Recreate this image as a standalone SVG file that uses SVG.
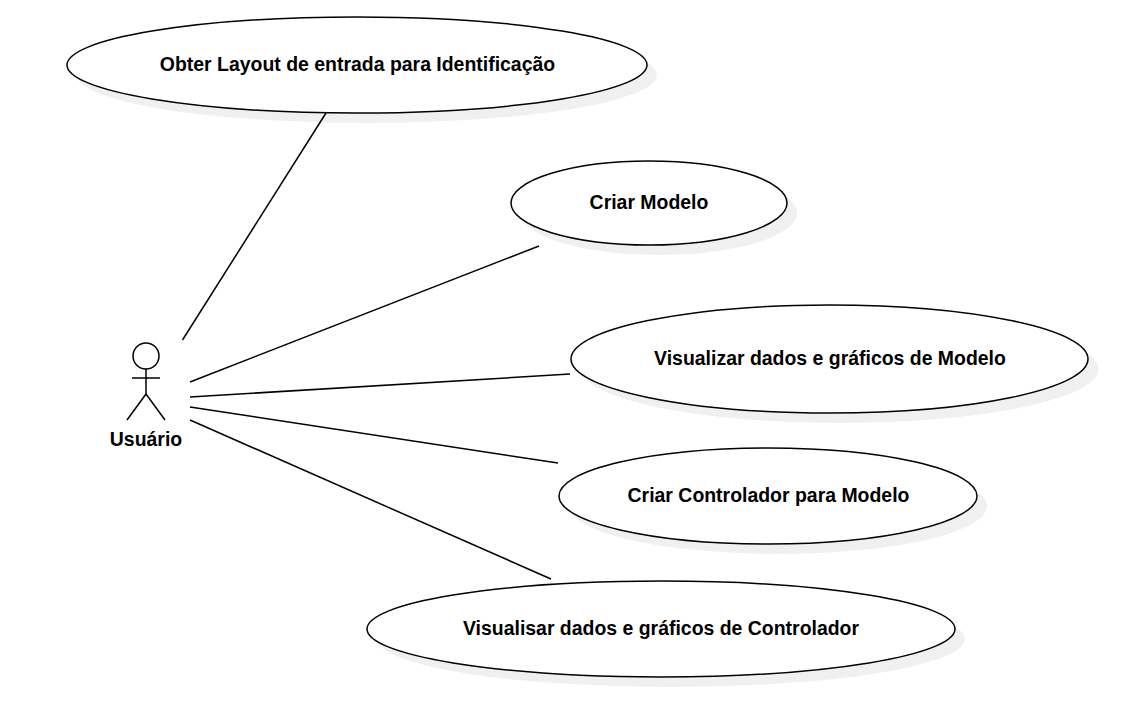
<svg xmlns="http://www.w3.org/2000/svg" width="1126" height="721" viewBox="0 0 1126 721">
<style>
text{font-family:"Liberation Sans",Arial,sans-serif;font-size:19.45px;font-weight:bold;fill:#000;text-anchor:middle}
.u{fill:#fff;stroke:#000;stroke-width:1.5}
.s{fill:#000;opacity:.06;stroke:none}
.c line{stroke:#000;stroke-width:1.5}
.a{fill:none;stroke:#000;stroke-width:1.5}
</style>
<rect width="1126" height="721" fill="#fff"/>
<g id="n1"><ellipse class="s" cx="367" cy="75" rx="290" ry="48"/><ellipse class="u" cx="357" cy="65" rx="290" ry="48"/><text x="357.500" y="71">Obter Layout de entrada para Identificação</text></g>
<g id="n2"><ellipse class="s" cx="659" cy="213" rx="138" ry="42"/><ellipse class="u" cx="649" cy="203" rx="138" ry="42"/><text x="649" y="209">Criar Modelo</text></g>
<g id="n3"><ellipse class="s" cx="840" cy="369" rx="258.500" ry="54"/><ellipse class="u" cx="829.500" cy="359" rx="258.500" ry="54"/><text x="830" y="365">Visualizar dados e gráficos de Modelo</text></g>
<g id="n4"><ellipse class="s" cx="778" cy="506" rx="209" ry="48"/><ellipse class="u" cx="768" cy="496" rx="209" ry="48"/><text x="768.500" y="502">Criar Controlador para Modelo</text></g>
<g id="n5"><ellipse class="s" cx="671" cy="639" rx="294" ry="48"/><ellipse class="u" cx="661" cy="629" rx="294" ry="48"/><text x="661" y="635">Visualisar dados e gráficos de Controlador</text></g>
<g id="actor"><circle class="a" cx="146" cy="356" r="13"/><path class="a" d="M146 369V394M132 378H160M146 394L127 420M146 394L165 420"/><text x="146" y="446">Usuário</text></g>
<g class="c" id="connectors">
<line x1="182.500" y1="340" x2="326" y2="113"/>
<line x1="190" y1="382" x2="539" y2="246"/>
<line x1="190" y1="397" x2="570" y2="374"/>
<line x1="190" y1="407" x2="558" y2="463"/>
<line x1="190" y1="420" x2="551" y2="579"/>
</g>
</svg>
